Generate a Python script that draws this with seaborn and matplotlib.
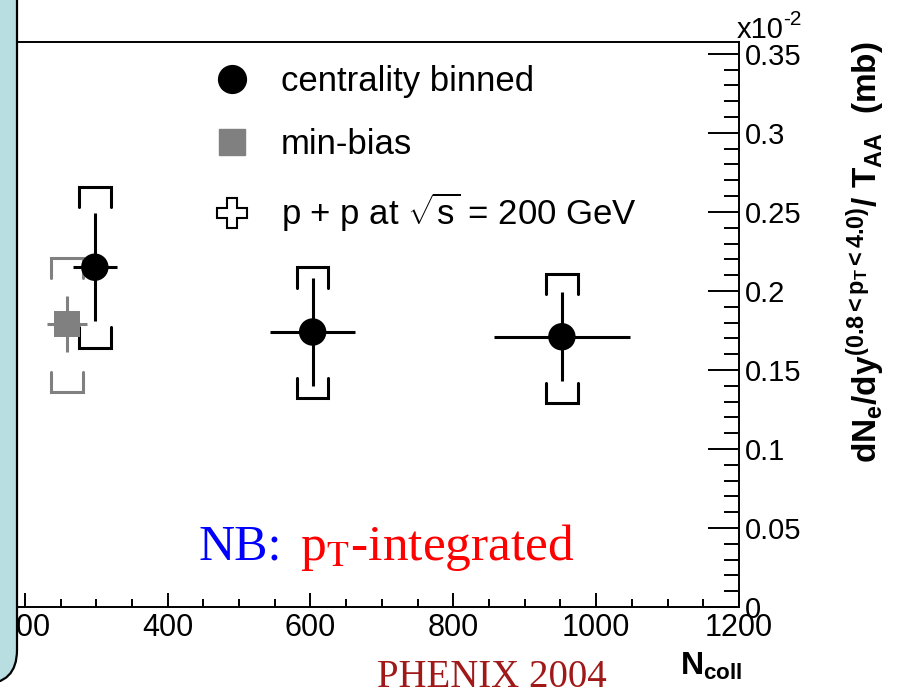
import numpy as np
import pandas as pd
import matplotlib
matplotlib.use("Agg")
import matplotlib.pyplot as plt
import seaborn as sns
from matplotlib.patches import FancyBboxPatch
from matplotlib.lines import Line2D
from matplotlib.ticker import MultipleLocator, FuncFormatter
from matplotlib.transforms import IdentityTransform

# ---------------- data (y in units of 1e-2 mb) ----------------
cent_ncoll = [298, 603, 952]
cent_val = [0.215, 0.174, 0.171]
cent_stat = [0.034, 0.034, 0.028]
cent_xerr = [31, 60, 95]
cent_sys_lo = [0.164, 0.132, 0.129]
cent_sys_hi = [0.266, 0.215, 0.211]

mb_ncoll = [259]
mb_val = [0.179]
mb_stat = [0.0175]
mb_xerr = [28]
mb_sys_lo = [0.136]
mb_sys_hi = [0.221]

legend_labels = ["centrality binned", "min-bias", r"p + p at $\sqrt{\mathrm{s}}$ = 200 GeV"]
x_ticks = [0, 200, 400, 600, 800, 1000, 1200]
y_ticks = [0, 0.05, 0.1, 0.15, 0.2, 0.25, 0.3, 0.35]

# ---------------- style ----------------
sns.set_theme(style="ticks")
plt.rcParams["font.family"] = ["Liberation Sans", "DejaVu Sans"]
plt.rcParams["text.color"] = "black"
plt.rcParams["mathtext.fontset"] = "custom"
plt.rcParams["mathtext.rm"] = "Liberation Sans"
plt.rcParams["mathtext.it"] = "Liberation Sans:italic"
plt.rcParams["mathtext.bf"] = "Liberation Sans:bold"

W, H = 902, 690
fig = plt.figure(figsize=(W / 100, H / 100), dpi=100)
fig.patch.set_facecolor("white")

# axes placement (pixels): x=0 -> -118 px, x=1200 -> 739 px ; y=0 -> 607, top -> 42
ax = fig.add_axes([-118 / W, 83 / H, 857 / W, 565 / H])
ax.set_facecolor("white")
ax.set_xlim(0, 1200)
ax.set_ylim(0, 0.3575)

GRAY = "#808080"
LW = 2.2
HW = 22      # bracket half-width (data units)
ARM = 0.013  # bracket arm length (data units)

def brackets(xs, lo, hi, color):
    for x, l, h in zip(xs, lo, hi):
        ax.plot([x - HW, x - HW, x + HW, x + HW], [h - ARM, h, h, h - ARM],
                color=color, lw=LW, solid_joinstyle="miter", zorder=2)
        ax.plot([x - HW, x - HW, x + HW, x + HW], [l + ARM, l, l, l + ARM],
                color=color, lw=LW, solid_joinstyle="miter", zorder=2)

# min-bias
brackets(mb_ncoll, mb_sys_lo, mb_sys_hi, GRAY)
ax.errorbar(mb_ncoll, mb_val, xerr=mb_xerr, yerr=mb_stat, fmt="none",
            ecolor=GRAY, elinewidth=LW, capsize=0, zorder=2)
df_mb = pd.DataFrame({"ncoll": mb_ncoll, "val": mb_val})
sns.scatterplot(data=df_mb, x="ncoll", y="val", ax=ax, marker="s", s=370,
                color=GRAY, edgecolor="none", legend=False, zorder=3)

# centrality binned
brackets(cent_ncoll, cent_sys_lo, cent_sys_hi, "black")
ax.errorbar(cent_ncoll, cent_val, xerr=cent_xerr, yerr=cent_stat, fmt="none",
            ecolor="black", elinewidth=LW, capsize=0, zorder=2)
df_c = pd.DataFrame({"ncoll": cent_ncoll, "val": cent_val})
sns.scatterplot(data=df_c, x="ncoll", y="val", ax=ax, marker="o", s=390,
                color="black", edgecolor="none", legend=False, zorder=4)

ax.set_xlabel("")
ax.set_ylabel("")

# spines & ticks
ax.spines["left"].set_visible(False)
for sp in ["right", "bottom", "top"]:
    ax.spines[sp].set_visible(True)
    ax.spines[sp].set_linewidth(1.4)
    ax.spines[sp].set_color("black")

ax.yaxis.tick_right()
ax.set_xticks(x_ticks)
ax.set_yticks(y_ticks)
ax.xaxis.set_minor_locator(MultipleLocator(50))
ax.yaxis.set_minor_locator(MultipleLocator(0.01))
ax.yaxis.set_major_formatter(FuncFormatter(lambda v, p: "%g" % round(v, 3)))
ax.tick_params(axis="y", which="both", direction="in", left=False, right=True,
               width=1.4, color="black", labelsize=21, pad=4, labelcolor="black")
ax.tick_params(axis="y", which="major", length=22)
ax.tick_params(axis="y", which="minor", length=11)
ax.tick_params(axis="x", which="both", direction="in", bottom=True, top=False,
               width=1.4, color="black", labelsize=22, pad=4, labelcolor="black")
ax.tick_params(axis="x", which="major", length=10)
ax.tick_params(axis="x", which="minor", length=6)

# legend
handles = [
    Line2D([], [], ls="none", marker="o", ms=20, mfc="black", mec="black"),
    Line2D([], [], ls="none", marker="s", ms=19, mfc=GRAY, mec=GRAY),
    Line2D([], [], ls="none", marker="P", ms=21, mfc="white", mec="black", mew=1.5),
]
fig.legend(handles, legend_labels, loc="upper left",
           bbox_to_anchor=(215 / W, 1 - 65 / H), frameon=False, fontsize=25,
           handlelength=1.0, handletextpad=0.9, labelspacing=0.86,
           borderpad=0, borderaxespad=0, labelcolor="black")

# multiplier
fig.text(737 / W, 1 - 38 / H, "x10", fontsize=21, ha="left", va="baseline")
fig.text(783 / W, 1 - 25 / H, "-2", fontsize=15, ha="left", va="baseline")

# axis titles
fig.text(680 / W, 1 - 675 / H, r"$\mathbf{N_{coll}}$", fontsize=23, ha="left", va="baseline")
fig.text(866 / W, 1 - 252 / H,
         r"$\mathbf{dN_{e}/dy^{(0.8{<}p_{T}{<}4.0)}/\ T_{AA}\ \ (mb)}$",
         fontsize=24, rotation=90, ha="center", va="center")

# annotations
fig.text(198 / W, 1 - 560 / H, "NB:", fontsize=36, color="#0000FF",
         family="Liberation Serif", ha="left", va="baseline")
fig.text(300 / W, 1 - 560 / H, r"p$_{\mathrm{T}}$-integrated", fontsize=37, color="#FF0000",
         family="Liberation Serif", math_fontfamily="stix", ha="left", va="baseline")
fig.text(377 / W, 1 - 687 / H, "PHENIX 2004", fontsize=28, color="#A01818",
         family="Liberation Serif", ha="left", va="baseline")

# slide panel on the left (pixel coordinates, origin bottom-left)
panel = FancyBboxPatch((-300, H - 684), 317, 900,
                       boxstyle="round,pad=0,rounding_size=34",
                       transform=IdentityTransform(), facecolor="#B9DEE2",
                       edgecolor="black", linewidth=1.6, zorder=20)
fig.add_artist(panel)

fig.savefig("out.png", dpi=100)
